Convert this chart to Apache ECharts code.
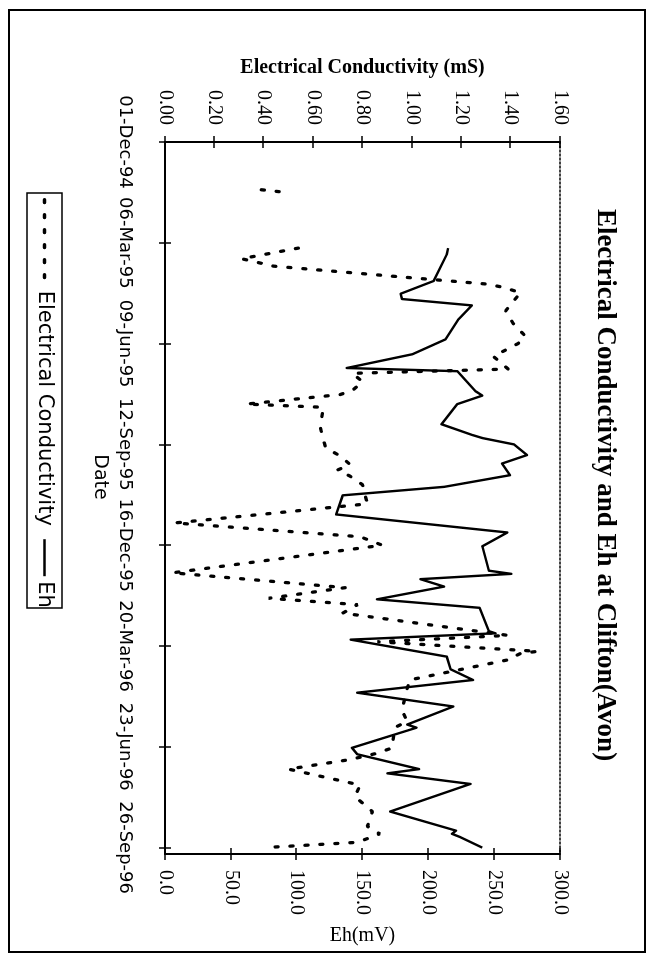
<!DOCTYPE html>
<html><head><meta charset="utf-8">
<script src="https://cdn.jsdelivr.net/npm/echarts@6/dist/echarts.min.js"></script>
<style>
html,body{margin:0;padding:0;background:#fff;width:652px;height:961px;overflow:hidden}
#frame{position:absolute;left:8px;top:9px;width:634px;height:940px;border:2px solid #000;box-sizing:content-box}
#rot{position:absolute;left:0;top:0;width:961px;height:652px;transform-origin:0 0;transform:translate(652px,0) rotate(90deg)}
</style></head><body>
<div id="frame"></div>
<div id="rot"></div>
<script>
// ---------------- data ----------------
const dateTickLabels = ['01-Dec-94','06-Mar-95','09-Jun-95','12-Sep-95','16-Dec-95','20-Mar-96','23-Jun-96','26-Sep-96'];
const ecTickLabels = ['0.00','0.20','0.40','0.60','0.80','1.00','1.20','1.40','1.60'];
const ehTickLabels = ['0.0','50.0','100.0','150.0','200.0','250.0','300.0'];

const ecDates = ['1995-01-15','1995-01-17','1995-02-20','1995-03-11','1995-03-21','1995-03-28','1995-04-08','1995-04-14','1995-04-17','1995-04-22',
  '1995-05-09','1995-05-21','1995-06-02','1995-06-09','1995-06-15','1995-06-21','1995-06-27','1995-07-03','1995-07-07','1995-07-15',
  '1995-07-23','1995-07-27','1995-08-05','1995-08-08','1995-08-28','1995-09-15','1995-09-23','1995-10-01','1995-10-06','1995-10-12',
  '1995-10-20','1995-11-07','1995-11-25','1995-12-08','1995-12-16','1996-01-11','1996-01-25','1996-02-04','1996-02-10','1996-02-18',
  '1996-03-10','1996-03-16','1996-03-25','1996-03-27','1996-04-02','1996-04-21','1996-05-19','1996-05-30','1996-06-05','1996-06-24',
  '1996-06-29','1996-07-05','1996-07-14','1996-07-29','1996-08-09','1996-08-23','1996-09-06','1996-09-13','1996-09-21','1996-09-26'];
const ecValues = [0.39,0.47,null,0.54,0.31,0.44,1.00,1.31,1.37,1.44,
  1.38,1.41,1.46,1.43,1.38,1.33,1.36,1.39,0.76,0.80,
  0.76,0.71,0.33,0.64,0.63,0.65,0.71,0.75,0.70,0.75,
  0.80,0.82,0.04,0.79,0.88,0.03,0.73,0.42,0.78,0.72,
  1.39,0.86,1.51,1.44,1.39,0.99,0.96,0.98,0.93,0.92,
  0.86,0.75,0.50,0.79,0.77,0.84,0.82,0.87,0.78,0.40];

const ehDates = ['1995-03-11','1995-03-17','1995-04-11','1995-04-23','1995-04-28','1995-05-04','1995-05-17','1995-06-05','1995-06-19','1995-07-02',
  '1995-07-05','1995-07-24','1995-07-28','1995-08-05','1995-08-24','1995-09-03','1995-09-06','1995-09-12','1995-09-22','1995-09-30',
  '1995-10-11','1995-10-22','1995-10-30','1995-11-17','1995-12-04','1995-12-17','1996-01-09','1996-01-12','1996-01-17','1996-01-24',
  '1996-02-05','1996-02-13','1996-03-06','1996-03-08','1996-03-14','1996-03-30','1996-04-11','1996-04-21','1996-05-03','1996-05-16',
  '1996-06-02','1996-06-05','1996-06-24','1996-06-30','1996-07-14','1996-07-18','1996-07-28','1996-08-23','1996-09-10','1996-09-13',
  '1996-09-16','1996-09-26'];
const ehValues = [215,214,204,179,180,233,223,213,188,138,
  222,236,241,222,210,233,241,265,275,256,
  262,212,135,130,260,241,246,263,194,212,
  161,239,246,251,141,214,217,234,146,219,
  184,191,142,146,193,169,232,171,221,218,
  224,241];

// ---------------- helpers ----------------
const ORIGIN = Date.UTC(1994, 11, 1);
const DAY = 86400000;
const TICK_DAYS = 95;
const AXIS_MAX_DAY = 671;
function dayOf(s){const p=s.split('-').map(Number);return Math.round((Date.UTC(p[0],p[1]-1,p[2])-ORIGIN)/DAY);}
const ecData = ecDates.map((d,i)=>[dayOf(d), ecValues[i]]);
const ehData = ehDates.map((d,i)=>[dayOf(d), ehValues[i]]);

const SANS = 'DejaVu Sans';
const SERIF = 'Liberation Serif';
const BLACK = '#000';

const chart = echarts.init(document.getElementById('rot'), null, {width:961, height:652, renderer:'canvas'});

const dateFmt = v => (v % TICK_DAYS === 0 && dateTickLabels[v / TICK_DAYS] !== undefined) ? dateTickLabels[v / TICK_DAYS] : '';
const ecFmt = v => { const i = Math.round(v / 0.2); return ecTickLabels[i] || ''; };
const ehFmt = v => { const i = Math.round(v / 50); return ehTickLabels[i] || ''; };

const EC_DASH = [3, 12];
const legendCommon = {top:597, padding:0, itemHeight:14, selectedMode:false,
  itemStyle:{opacity:0, color:'transparent', borderWidth:0},
  textStyle:{fontFamily:SANS, fontSize:21, color:BLACK}};

const option = {
  animation:false,
  backgroundColor:'transparent',
  grid:{left:142, right:107, top:92, bottom:165, outerBoundsMode:'none', containLabel:false},
  graphic:[
    {type:'text', x:485, y:47, style:{text:'Electrical Conductivity and Eh at Clifton(Avon)', font:'bold 27px "Liberation Serif"', fill:BLACK, textAlign:'center', textVerticalAlign:'middle'}},
    {type:'rect', shape:{x:193, y:590, width:415, height:35}, style:{fill:'none', stroke:BLACK, lineWidth:1.5}}
  ],
  legend:[
    Object.assign({}, legendCommon, {data:['Electrical Conductivity'], left:198, itemWidth:86,
      lineStyle:{color:BLACK, width:3.3, type:EC_DASH, cap:'round'}}),
    Object.assign({}, legendCommon, {data:['Eh'], left:538, itemWidth:37,
      lineStyle:{color:BLACK, width:2.4, type:'solid'}})
  ],
  xAxis:[
    {type:'value', position:'bottom', min:0, max:AXIS_MAX_DAY, interval:TICK_DAYS,
     name:'Date', nameLocation:'middle', nameGap:56,
     nameTextStyle:{fontFamily:SANS, fontSize:19, color:BLACK, padding:[0,42,0,0]},
     axisLine:{show:true, onZero:false, lineStyle:{color:BLACK, width:2}},
     axisTick:{show:true, inside:false, length:6, lineStyle:{color:BLACK, width:1.5}},
     axisLabel:{formatter:dateFmt, margin:31, fontFamily:SANS, fontSize:18, color:BLACK, showMaxLabel:false, showMinLabel:true},
     splitLine:{show:false}},
    {type:'value', position:'top', min:0, max:AXIS_MAX_DAY, interval:TICK_DAYS,
     axisLine:{show:true, onZero:false, lineStyle:{color:BLACK, width:1.5, type:[2,2]}},
     axisTick:{show:false}, axisLabel:{show:false}, splitLine:{show:false}},
    {type:'value', position:'bottom', min:0, max:AXIS_MAX_DAY, interval:TICK_DAYS,
     axisLine:{show:false, onZero:false},
     axisTick:{show:true, inside:true, length:6, lineStyle:{color:BLACK, width:1.5}},
     axisLabel:{show:false}, splitLine:{show:false}}
  ],
  yAxis:[
    {type:'value', position:'left', min:0, max:1.6, interval:0.2,
     name:'Electrical Conductivity (mS)', nameLocation:'middle', nameGap:64,
     nameTextStyle:{fontFamily:SERIF, fontWeight:'bold', fontSize:20, color:BLACK},
     axisLine:{show:true, onZero:false, lineStyle:{color:BLACK, width:2}},
     axisTick:{show:true, inside:false, length:6, lineStyle:{color:BLACK, width:1.5}},
     axisLabel:{formatter:ecFmt, margin:17, fontFamily:SERIF, fontSize:20, color:BLACK},
     splitLine:{show:false}},
    {type:'value', position:'right', min:0, max:300, interval:50,
     name:'Eh(mV)', nameLocation:'middle', nameGap:67,
     nameTextStyle:{fontFamily:SERIF, fontSize:20, color:BLACK},
     axisLine:{show:true, onZero:false, lineStyle:{color:BLACK, width:2}},
     axisTick:{show:true, inside:false, length:6, lineStyle:{color:BLACK, width:1.5}},
     axisLabel:{formatter:ehFmt, margin:16, fontFamily:SERIF, fontSize:20, color:BLACK},
     splitLine:{show:false}},
    {type:'value', position:'left', min:0, max:1.6, interval:0.2,
     axisLine:{show:false, onZero:false},
     axisTick:{show:true, inside:true, length:6, lineStyle:{color:BLACK, width:1.5}},
     axisLabel:{show:false}, splitLine:{show:false}},
    {type:'value', position:'right', min:0, max:300, interval:50,
     axisLine:{show:false, onZero:false},
     axisTick:{show:true, inside:true, length:6, lineStyle:{color:BLACK, width:1.5}},
     axisLabel:{show:false}, splitLine:{show:false}}
  ],
  series:[
    {name:'Electrical Conductivity', type:'line', xAxisIndex:0, yAxisIndex:0, data:ecData,
     symbol:'none', showSymbol:false, connectNulls:false, z:3,
     itemStyle:{color:BLACK},
     lineStyle:{color:BLACK, width:3.3, type:EC_DASH, cap:'round'}},
    {name:'Eh', type:'line', xAxisIndex:0, yAxisIndex:1, data:ehData,
     symbol:'none', showSymbol:false, z:4,
     itemStyle:{color:BLACK},
     lineStyle:{color:BLACK, width:2.4, type:'solid', join:'round'}}
  ]
};
chart.setOption(option);
</script></body></html>
